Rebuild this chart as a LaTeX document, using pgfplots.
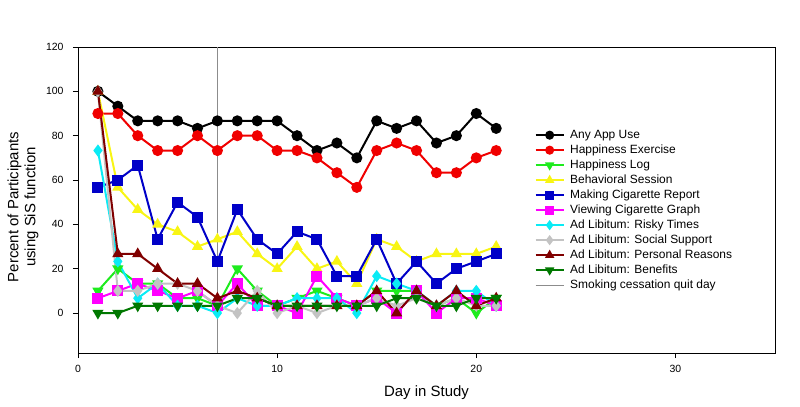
\documentclass[border=0pt]{standalone}
\usepackage{fontspec}
\setmainfont{Liberation Sans}
\usepackage{pgfplots}
\pgfplotsset{compat=1.18}

\definecolor{cRed}{RGB}{240,0,0}
\definecolor{cGreen}{RGB}{30,235,30}
\definecolor{cYellow}{RGB}{248,245,20}
\definecolor{cBlue}{RGB}{0,0,200}
\definecolor{cMag}{RGB}{255,0,255}
\definecolor{cCyan}{RGB}{10,235,245}
\definecolor{cGray}{RGB}{195,195,195}
\definecolor{cMaroon}{RGB}{128,0,0}
\definecolor{cDkGreen}{RGB}{0,120,0}
\definecolor{cQuit}{RGB}{140,140,140}

\begin{document}
\begin{tikzpicture}
\begin{axis}[
  scale only axis,
  width=697bp, height=306bp,
  xmin=0, xmax=35, ymin=-18, ymax=120,
  xtick={0,10,20,30},
  ytick={0,20,40,60,80,100,120},
  tick align=outside, tick pos=left,
  major tick length=5bp,
  axis line style={line width=0.8bp},
  every tick/.style={black, line width=0.8bp},
  tick label style={font=\fontsize{10.5}{12}\selectfont},
  yticklabel style={xshift=-6bp},
  xticklabel style={yshift=-4bp},
  /pgf/number format/assume math mode=true,
  xlabel={Day in Study},
  ylabel={Percent of Participants\\using SiS function},
  label style={font=\fontsize{15}{17}\selectfont},
  xlabel style={at={(axis description cs:0.5,0)}, anchor=center, yshift=-40bp},
  ylabel style={at={(axis description cs:-0.0789,0.477)}, anchor=center, align=center},
  every axis plot/.append style={line width=2bp, mark size=4.5bp, mark options={solid}},
  legend style={at={(rel axis cs:0.6549,0.7370)}, anchor=north west,
    draw=none, fill=none, inner sep=0pt, row sep=0pt, column sep=4bp,
    font=\fontsize{12}{14}\selectfont,
    nodes={inner sep=1.5bp, text height=9bp, text depth=3bp}},
  legend cell align=left,
  legend image code/.code={
    \draw[mark repeat=2, mark phase=2, mark size=3.5bp]
      plot coordinates {(0bp,0bp) (14bp,0bp) (28bp,0bp)};},
]

\addplot[forget plot, color=cQuit, line width=1bp] coordinates {(7,-18) (7,120)};

% Any App Use
\addplot[color=black, mark=*] coordinates {
 (1,100) (2,93.3) (3,86.7) (4,86.7) (5,86.7) (6,83.3) (7,86.7) (8,86.7) (9,86.7) (10,86.7)
 (11,80) (12,73.3) (13,76.7) (14,70) (15,86.7) (16,83.3) (17,86.7) (18,76.7) (19,80) (20,90) (21,83.3)};

% Happiness Exercise
\addplot[color=cRed, mark=*] coordinates {
 (1,90) (2,90) (3,80) (4,73.3) (5,73.3) (6,80) (7,73.3) (8,80) (9,80) (10,73.3)
 (11,73.3) (12,70) (13,63.3) (14,56.7) (15,73.3) (16,76.7) (17,73.3) (18,63.3) (19,63.3) (20,70) (21,73.3)};

% Happiness Log
\addplot[color=cGreen, mark=triangle*, mark options={rotate=180}] coordinates {
 (1,10) (2,20) (3,13.3) (4,13.3) (5,6.7) (6,6.7) (7,3.3) (8,20) (9,10) (10,3.3)
 (11,6.7) (12,10) (13,6.7) (14,3.3) (15,10) (16,10) (17,10) (18,3.3) (19,6.7) (20,0) (21,6.7)};

% Behavioral Session
\addplot[color=cYellow, mark=triangle*] coordinates {
 (1,100) (2,56.7) (3,46.7) (4,40) (5,36.7) (6,30) (7,33.3) (8,36.7) (9,26.7) (10,20)
 (11,30) (12,20) (13,23.3) (14,13.3) (15,33.3) (16,30) (17,23.3) (18,26.7) (19,26.7) (20,26.7) (21,30)};

% Making Cigarette Report
\addplot[color=cBlue, mark=square*] coordinates {
 (1,56.7) (2,60) (3,66.7) (4,33.3) (5,50) (6,43.3) (7,23.3) (8,46.7) (9,33.3) (10,26.7)
 (11,36.7) (12,33.3) (13,16.7) (14,16.7) (15,33.3) (16,13.3) (17,23.3) (18,13.3) (19,20) (20,23.3) (21,26.7)};

% Viewing Cigarette Graph
\addplot[color=cMag, mark=square*] coordinates {
 (1,6.7) (2,10) (3,13.3) (4,10) (5,6.7) (6,10) (7,3.3) (8,13.3) (9,3.3) (10,3.3)
 (11,0) (12,16.7) (13,6.7) (14,3.3) (15,6.7) (16,0) (17,10) (18,0) (19,6.7) (20,6.7) (21,3.3)};

% Ad Libitum: Risky Times
\addplot[color=cCyan, mark=diamond*] coordinates {
 (1,73.3) (2,23.3) (3,6.7) (4,13.3) (5,3.3) (6,3.3) (7,0) (8,6.7) (9,3.3) (10,3.3)
 (11,6.7) (12,6.7) (13,6.7) (14,0) (15,16.7) (16,13.3) (17,10) (18,3.3) (19,10) (20,10) (21,3.3)};

% Ad Libitum: Social Support
\addplot[color=cGray, mark=diamond*] coordinates {
 (1,100) (2,10) (3,10) (4,13.3) (5,13.3) (6,10) (7,3.3) (8,0) (9,10) (10,0)
 (11,3.3) (12,0) (13,3.3) (14,3.3) (15,6.7) (16,3.3) (17,6.7) (18,3.3) (19,6.7) (20,3.3) (21,3.3)};

% Ad Libitum: Personal Reasons
\addplot[color=cMaroon, mark=triangle*] coordinates {
 (1,100) (2,26.7) (3,26.7) (4,20) (5,13.3) (6,13.3) (7,6.7) (8,10) (9,6.7) (10,3.3)
 (11,3.3) (12,3.3) (13,3.3) (14,3.3) (15,10) (16,0) (17,10) (18,3.3) (19,10) (20,3.3) (21,6.7)};

% Ad Libitum: Benefits
\addplot[color=cDkGreen, mark=triangle*, mark options={rotate=180}] coordinates {
 (1,0) (2,0) (3,3.3) (4,3.3) (5,3.3) (6,3.3) (7,3.3) (8,6.7) (9,6.7) (10,3.3)
 (11,3.3) (12,3.3) (13,3.3) (14,3.3) (15,3.3) (16,6.7) (17,6.7) (18,3.3) (19,3.3) (20,6.7) (21,6.7)};

\addlegendimage{color=cQuit, line width=1bp, no markers}

\legend{Any App Use, Happiness Exercise, Happiness Log, Behavioral Session,
  Making Cigarette Report, Viewing Cigarette Graph, Ad Libitum: Risky Times,
  Ad Libitum: Social Support, Ad Libitum: Personal Reasons, Ad Libitum: Benefits,
  Smoking cessation quit day}
\end{axis}
\pgfresetboundingbox
\path (-78bp,-54bp) rectangle (722bp,353bp);
\end{tikzpicture}
\end{document}
